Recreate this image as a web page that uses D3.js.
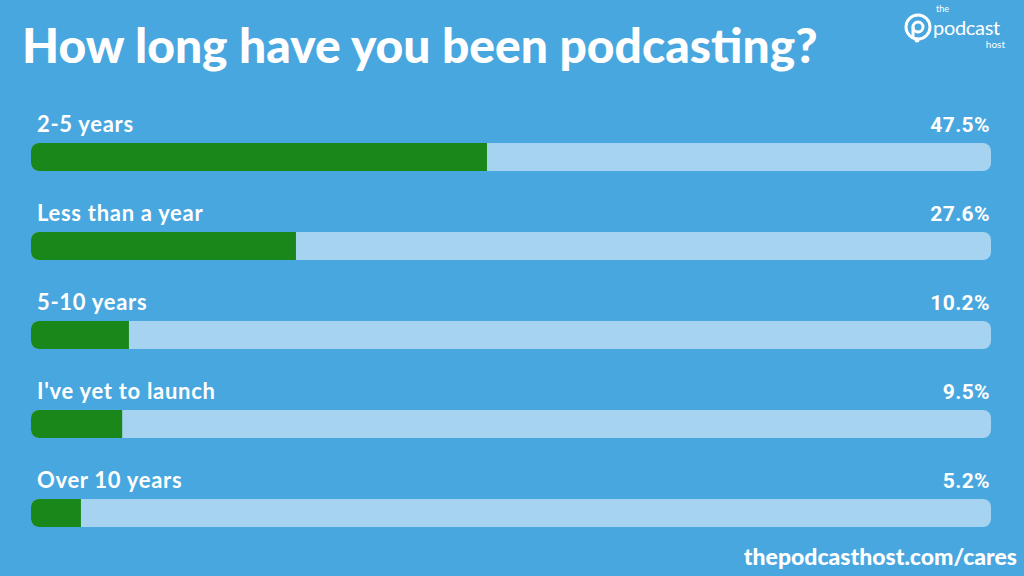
<!DOCTYPE html>
<html><head><meta charset="utf-8">
<script src="https://cdn.jsdelivr.net/npm/d3@7"></script>
<style>html,body{margin:0;padding:0;background:#49a7df;}svg{display:block}</style>
</head><body><svg id="c" width="1024" height="576"></svg>
<script>
const categories = ["2-5 years","Less than a year","5-10 years","I've yet to launch","Over 10 years"];
const values = [47.5, 27.6, 10.2, 9.5, 5.2];
const valueLabels = ["47.5%","27.6%","10.2%","9.5%","5.2%"];
const title = "How long have you been podcasting?";
const footer = "thepodcasthost.com/cares";

const svg = d3.select("#c");
const W = 1024, H = 576;
svg.append("rect").attr("width",W).attr("height",H).attr("fill","#49a7df");

const x = d3.scaleLinear().domain([0,100]).range([31,991]);
const y = d3.scaleBand().domain(categories).range([110,555]).paddingInner(0).paddingOuter(0);
const barH = 28, barOff = 33;

svg.append("text").attr("x",22).attr("y",63).text(title)
  .attr("fill","#fff").attr("font-family","Lato").attr("font-weight",900).attr("font-size",48);

const g = svg.selectAll("g.row").data(categories).enter().append("g").attr("class","row")
  .attr("transform",d=>`translate(0,${y(d)})`);
g.append("rect").attr("x",x(0)).attr("y",barOff).attr("width",x(100)-x(0)).attr("height",barH)
  .attr("rx",8).attr("fill","#a5d3f0");
g.append("path").attr("fill","#1a871a").attr("d",(d,i)=>{
  const x0=x(0), x1=x(values[i]), r=8, t=barOff, b=barOff+barH;
  return `M${x0+r},${t}H${x1}V${b}H${x0+r}A${r},${r} 0 0 1 ${x0},${b-r}V${t+r}A${r},${r} 0 0 1 ${x0+r},${t}Z`;
});
g.append("text").attr("x",37).attr("y",22).text(d=>d)
  .attr("fill","#fff").attr("font-family","Lato").attr("font-weight",700).attr("font-size",22)
  .attr("letter-spacing",0.7);
g.append("text").attr("x",990).attr("y",22).attr("text-anchor","end").text((d,i)=>valueLabels[i])
  .attr("fill","#fff").attr("font-family","Roboto").attr("font-weight",700).attr("font-size",21)
  .attr("letter-spacing",0.4);

svg.append("text").attr("x",1017).attr("y",565).attr("text-anchor","end").text(footer)
  .attr("fill","#fff").attr("font-family","Lato").attr("font-weight",900).attr("font-size",23);

// logo
const lg = svg.append("g").attr("transform","translate(918,27)");
lg.append("circle").attr("r",12).attr("fill","none").attr("stroke","#fff").attr("stroke-width",3);
lg.append("circle").attr("r",5).attr("fill","none").attr("stroke","#fff").attr("stroke-width",3);
lg.append("line").attr("x1",-5).attr("y1",0).attr("x2",-5).attr("y2",12).attr("stroke","#fff").attr("stroke-width",3);
lg.append("circle").attr("cx",-1).attr("cy",13).attr("r",2.5).attr("fill","#fff");
svg.append("text").attr("x",936).attr("y",12).text("the").attr("fill","#fff").attr("font-family","Lato").attr("font-size",9);
svg.append("text").attr("x",933).attr("y",35).text("podcast").attr("fill","#fff").attr("font-family","Lato").attr("font-size",20).attr("letter-spacing",-0.3);
svg.append("text").attr("x",1005).attr("y",48).attr("text-anchor","end").text("host").attr("fill","#fff").attr("font-family","Lato").attr("font-size",10);
</script></body></html>
